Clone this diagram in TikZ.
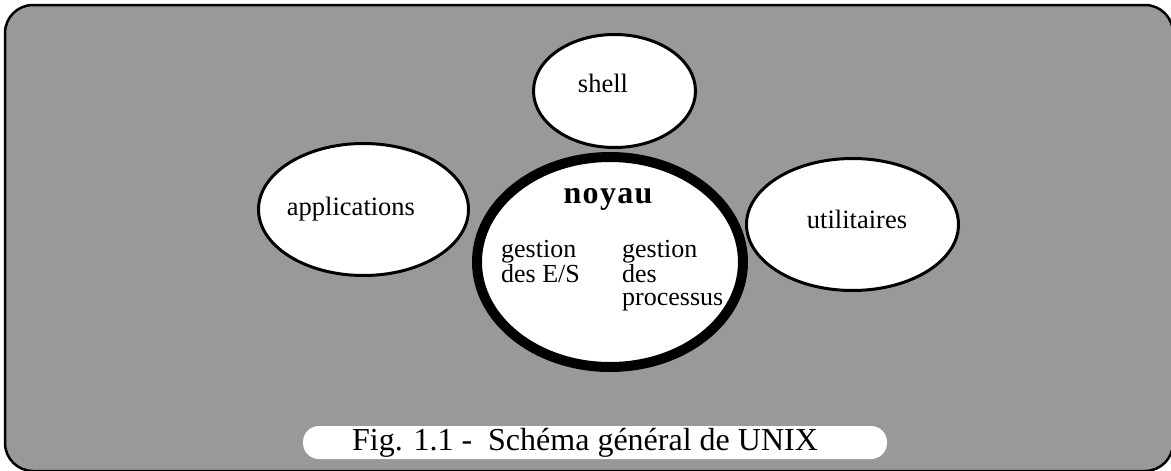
\documentclass[tikz,border=0pt]{standalone}
\usepackage{fontspec}
\setmainfont{Liberation Serif}
\usetikzlibrary{shapes.geometric}
\definecolor{bgdots}{gray}{0.6}
\begin{document}
\begin{tikzpicture}[x=1pt,y=-1pt,
  bubble/.style={ellipse, draw=black, line width=3pt, fill=white, inner sep=0pt, outer sep=0pt},
  kernel/.style={ellipse, draw=black, line width=10pt, fill=white, inner sep=0pt, outer sep=0pt},
  lbl/.style={font=\fontsize{26.5}{27}\selectfont, inner sep=0pt, anchor=base},
  sublbl/.style={font=\fontsize{26}{23.5}\selectfont, inner sep=0pt, anchor=north west, align=left},
  kernlbl/.style={font=\fontsize{32}{33}\selectfont\bfseries\addfontfeatures{LetterSpace=4}, inner sep=0pt, anchor=base},
  caplbl/.style={font=\fontsize{32}{33}\selectfont, inner sep=0pt, anchor=base west},
 ]
\useasboundingbox (0,0) rectangle (1171,471);
% frame with halftone-like grey background
\draw[line width=2.5pt, fill=bgdots, rounded corners=28pt] (5,5) rectangle (1173,471);

% satellite bubbles
\node[bubble, minimum width=162pt, minimum height=113pt] (shell) at (614.5,91) {};
\node[bubble, minimum width=210pt, minimum height=132pt] (apps) at (363.5,209.5) {};
\node[bubble, minimum width=212pt, minimum height=132pt] (utils) at (852.5,224.5) {};
% kernel
\node[kernel, minimum width=266pt, minimum height=210pt] (noyau) at (610,262) {};

% labels
\node[lbl] (shelltxt) at (603,92) {shell};
\node[lbl] (appstxt) at (351,215) {applications};
\node[lbl] (utilstxt) at (857,228) {utilitaires};
\node[kernlbl] (noyautxt) at (608,203) {noyau};

\node[sublbl] (es) at (501,240) {gestion\\des E/S};
\node[sublbl] (pr) at (622,240) {gestion\\des\\processus};

% caption
\fill[white, rounded corners=16pt] (303,426) rectangle (887,459);
\node[caplbl] (caption) at (352,450) {Fig. 1.1 -\ \ Schéma général de UNIX};
\end{tikzpicture}
\end{document}
